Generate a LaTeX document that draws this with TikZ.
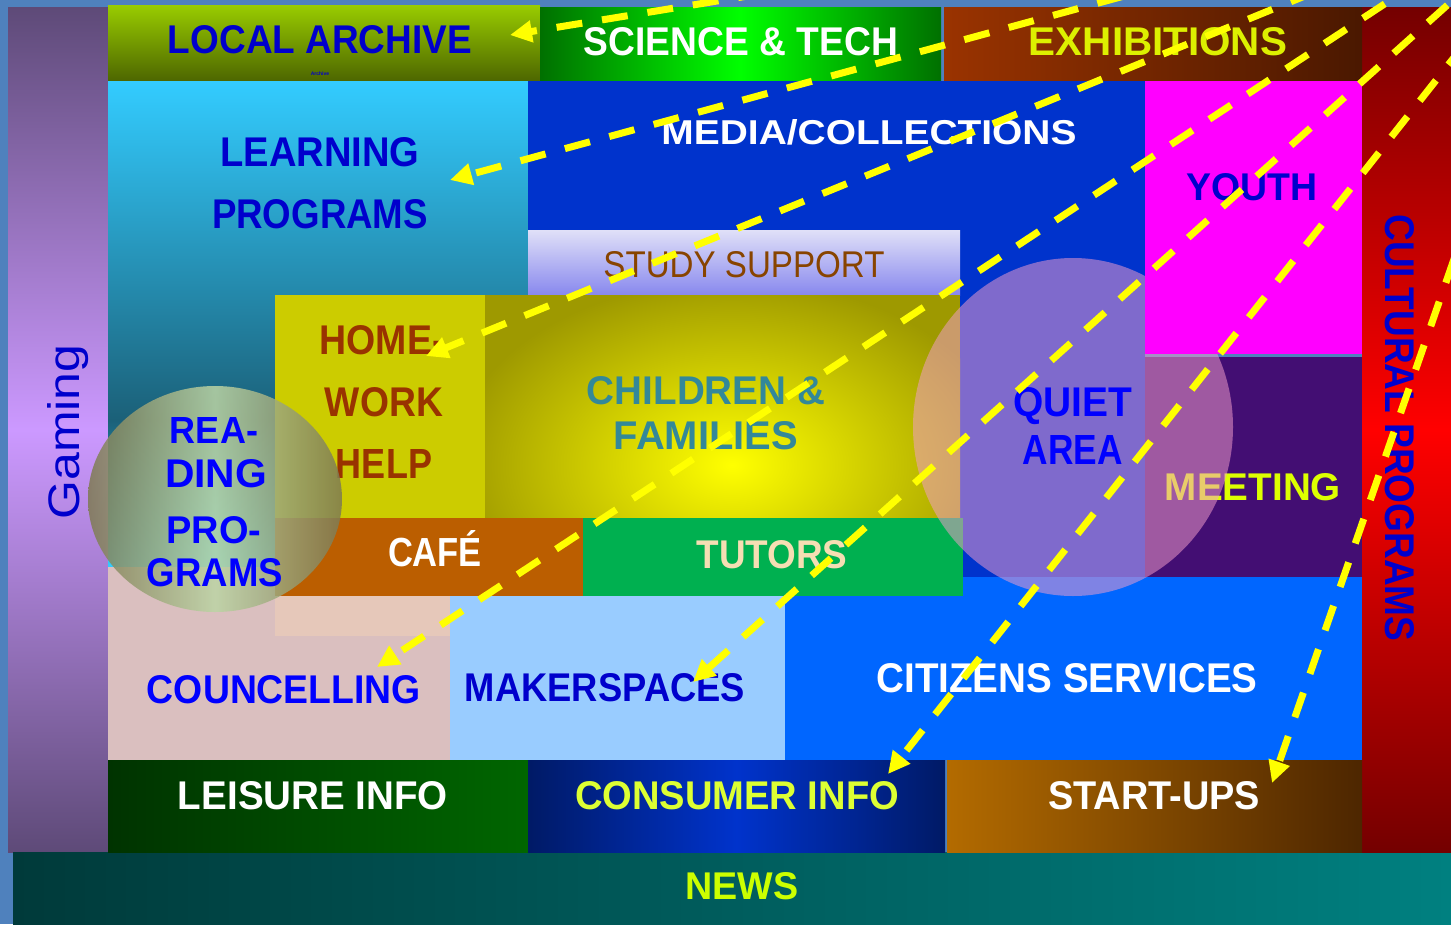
\documentclass[tikz,border=0pt]{standalone}
\usepackage{fontspec}
\setmainfont{Liberation Sans}
\usepackage{graphicx}
\usetikzlibrary{arrows.meta}
\definecolor{bgsteel}{HTML}{4F81BD}
\definecolor{gamDark}{HTML}{5E4A78}
\definecolor{gamLight}{HTML}{CC99FF}
\definecolor{newsL}{HTML}{003A3A}
\definecolor{newsR}{HTML}{008080}
\definecolor{archTop}{HTML}{99CC00}
\definecolor{archBot}{HTML}{4D6600}
\definecolor{sciEdge}{HTML}{007000}
\definecolor{sciMid}{HTML}{00FF00}
\definecolor{exhL}{HTML}{9A3300}
\definecolor{exhR}{HTML}{4A1800}
\definecolor{culEdge}{HTML}{740000}
\definecolor{culMid}{HTML}{FF0000}
\definecolor{learnTop}{HTML}{33CCFF}
\definecolor{learnMid}{HTML}{1B6078}
\definecolor{mediaB}{HTML}{0033CC}
\definecolor{youthM}{HTML}{FF00FF}
\definecolor{meetP}{HTML}{430E73}
\definecolor{studyTop}{HTML}{E0E0F8}
\definecolor{studyBot}{HTML}{8888EE}
\definecolor{hwY}{HTML}{CCCC00}
\definecolor{chOl}{HTML}{9E9900}
\definecolor{chY}{HTML}{FFFF00}
\definecolor{cafeO}{HTML}{BB5E00}
\definecolor{tutG}{HTML}{00B050}
\definecolor{counP}{HTML}{DABFBF}
\definecolor{counL}{HTML}{E6C8BA}
\definecolor{makerB}{HTML}{99CCFF}
\definecolor{citB}{HTML}{0066FF}
\definecolor{leisL}{HTML}{003300}
\definecolor{leisR}{HTML}{006600}
\definecolor{consEdge}{HTML}{001A66}
\definecolor{consMid}{HTML}{0033CC}
\definecolor{startL}{HTML}{B36B00}
\definecolor{startR}{HTML}{4D2600}
\definecolor{quietC}{HTML}{F49ECC}
\definecolor{readE}{HTML}{7E7A52}
\definecolor{readM}{HTML}{BCD5A5}
\definecolor{arrowY}{HTML}{FFFF00}
\definecolor{labBlue}{HTML}{0000CC}
\definecolor{brightBlue}{HTML}{0000FF}
\definecolor{hwText}{HTML}{993300}
\definecolor{chText}{HTML}{338899}
\definecolor{studyText}{HTML}{884400}
\definecolor{limeText}{HTML}{DDFF00}
\definecolor{exhText}{HTML}{DDF000}
\definecolor{consText}{HTML}{DDFF33}
\definecolor{newsText}{HTML}{CCFF00}
\definecolor{tutText}{HTML}{F5DEB3}
\newcommand{\fitwh}[3]{\resizebox{#1pt}{#2pt}{#3}}
\begin{document}
\begin{tikzpicture}[x=1pt,y=-1pt,
  lbl/.style={inner sep=0pt, font=\bfseries},
  plainlbl/.style={inner sep=0pt},
  flow/.style={draw=arrowY, line width=7pt, dash pattern=on 26pt off 20pt,
    -{Triangle[length=22pt,width=21pt]}}]
\useasboundingbox (0,0) rectangle (1451,924);
\fill[bgsteel] (0,0) rectangle (1451,924);

% side columns and bars
\shade[top color=gamDark, bottom color=gamDark, middle color=gamLight] (8,7) rectangle (108,852);
\shade[left color=newsL, right color=newsR] (13,852) rectangle (1451,924);
\shade[top color=culEdge, bottom color=culEdge, middle color=culMid] (1362,7) rectangle (1451,852);

% top row
\shade[top color=archTop, bottom color=archBot] (108,5) rectangle (540,81);
\shade[left color=sciEdge, right color=sciEdge, middle color=sciMid] (540,7) rectangle (941,85);
\shade[left color=exhL, right color=exhR] (944,7) rectangle (1362,84);

% learning programs
\shade[top color=learnTop, bottom color=learnMid] (108,81) rectangle (528,420);
\shade[top color=learnMid, bottom color=learnTop] (108,419) rectangle (528,567);

% media
\fill[mediaB] (528,81) rectangle (1145,580);
% meeting
\fill[meetP] (1145,357) rectangle (1362,577);
% study support
\shade[top color=studyTop, bottom color=studyBot] (528,230) rectangle (960,295);
% homework
\fill[hwY] (275,295) rectangle (485,518);
% children & families
\begin{scope}
\clip (485,295) rectangle (960,518);
\fill[chOl] (485,295) rectangle (960,518);
\shade[inner color=chY, outer color=chOl] (732,465) ellipse [x radius=280, y radius=185];
\end{scope}
% citizens
\fill[citB] (785,577) rectangle (1362,760);
% councelling
\fill[counP] (108,567) rectangle (450,760);
\fill[counL] (275,596) rectangle (450,636);
% cafe, tutors
\fill[cafeO] (275,518) rectangle (583,596);
\fill[tutG] (583,518) rectangle (963,596);
% makerspaces
\fill[makerB] (450,596) rectangle (785,760);
% bottom row
\shade[left color=leisL, right color=leisR] (108,760) rectangle (528,852);
\shade[left color=consEdge, right color=consEdge, middle color=consMid] (528,760) rectangle (945,852);
\shade[left color=startL, right color=startR] (947,760) rectangle (1362,852);

% labels
\node[lbl, text=labBlue] (larch) at (320,40) {\fitwh{304}{28}{LOCAL ARCHIVE}};
\node[lbl, text=labBlue, font=\fontsize{5}{6}\selectfont\bfseries] (larchs) at (320,74) {Archive};
\node[lbl, text=white] (sci) at (741,42) {\fitwh{314}{28}{SCIENCE \& TECH}};
\node[lbl, text=exhText] (exh) at (1158,42) {\fitwh{258}{28}{EXHIBITIONS}};
\node[lbl, text=white] (media) at (869,132) {\fitwh{415}{25}{MEDIA/COLLECTIONS}};
\node[lbl, text=labBlue] (learn1) at (320,152) {\fitwh{199}{29}{LEARNING}};
\node[lbl, text=labBlue] (learn2) at (320,214) {\fitwh{216}{29}{PROGRAMS}};
\node[plainlbl, text=studyText] (study) at (744,265) {\fitwh{281}{26}{STUDY SUPPORT}};
\node[lbl, text=hwText] (hw1) at (382,340) {\fitwh{125}{29}{HOME-}};
\node[lbl, text=hwText] (hw2) at (384,402) {\fitwh{118}{29}{WORK}};
\node[lbl, text=hwText] (hw3) at (384,464) {\fitwh{96}{29}{HELP}};
\node[lbl, text=chText] (ch1) at (706,391) {\fitwh{238}{28}{CHILDREN \&}};
\node[lbl, text=chText] (ch2) at (706,436) {\fitwh{184}{28}{FAMILIES}};
\node[lbl, text=limeText] (meet) at (1253,487) {\fitwh{176}{27}{MEETING}};
\node[lbl, text=white] (cafe) at (435,549) {\fitwh{94}{36}{CAFÉ}};
\node[lbl, text=tutText] (tut) at (772,555) {\fitwh{151}{28}{TUTORS}};
\node[lbl, text=brightBlue] (coun) at (284,690) {\fitwh{274}{28}{COUNCELLING}};
\node[lbl, text=labBlue] (maker) at (605,688) {\fitwh{280}{28}{MAKERSPACES}};
\node[lbl, text=white] (cit) at (1067,678) {\fitwh{381}{29}{CITIZENS SERVICES}};
\node[lbl, text=white] (leis) at (313,796) {\fitwh{270}{28}{LEISURE INFO}};
\node[lbl, text=consText] (cons) at (737,796) {\fitwh{324}{28}{CONSUMER INFO}};
\node[lbl, text=white] (start) at (1154,796) {\fitwh{212}{28}{START-UPS}};
\node[lbl, text=newsText] (news) at (742,886) {\fitwh{113}{27}{NEWS}};
\node[lbl, text=labBlue, rotate=-90] (cult) at (1400,428) {\fitwh{427}{29}{CULTURAL PROGRAMS}};
\node[plainlbl, text=labBlue, rotate=90] (gam) at (68,432) {\fitwh{175}{32}{Gaming}};

% quiet area (over the rest, under youth)
\fill[quietC, fill opacity=0.52] (1073,427) ellipse [x radius=160, y radius=169];
\node[lbl, text=brightBlue] (q1) at (1073,406) {\fitwh{119}{29}{QUIET}};
\node[lbl, text=brightBlue] (q2) at (1073,450) {\fitwh{100}{29}{AREA}};

% youth on top
\fill[youthM] (1145,81) rectangle (1362,354);
\node[lbl, text=labBlue] (youth) at (1252,187) {\fitwh{131}{27}{YOUTH}};

% reading programs ellipse
\shade[left color=readE, right color=readE, middle color=readM, fill opacity=0.85] (215,499) ellipse [x radius=127, y radius=113];
\node[lbl, text=brightBlue] (r1) at (214,430) {\fitwh{88}{26}{REA-}};
\node[lbl, text=brightBlue] (r2) at (216,474) {\fitwh{102}{28}{DING}};
\node[lbl, text=brightBlue] (r3) at (214,530) {\fitwh{95}{27}{PRO-}};
\node[lbl, text=brightBlue] (r4) at (215,573) {\fitwh{136}{28}{GRAMS}};

% arrows
\coordinate (sA) at (900,-29);  \coordinate (tA) at (510,35);
\coordinate (sB) at (1300,-52); \coordinate (tB) at (450,180);
\coordinate (sC) at (1400,-43); \coordinate (tC) at (426,356);
\coordinate (sD) at (1500,-72); \coordinate (tD) at (377,667);
\coordinate (sE) at (1550,-87); \coordinate (tE) at (693,682);
\coordinate (sF) at (1550,-64); \coordinate (tF) at (888,774);
\coordinate (sG) at (1560,-46); \coordinate (tG) at (1272,783);
\begin{scope}
\clip (0,0) rectangle (1451,924);
\draw[flow] (sA) -- (tA);
\draw[flow] (sB) -- (tB);
\draw[flow] (sC) -- (tC);
\draw[flow] (sD) -- (tD);
\draw[flow] (sE) -- (tE);
\draw[flow] (sF) -- (tF);
\draw[flow] (sG) -- (tG);
\end{scope}
\end{tikzpicture}
\end{document}
